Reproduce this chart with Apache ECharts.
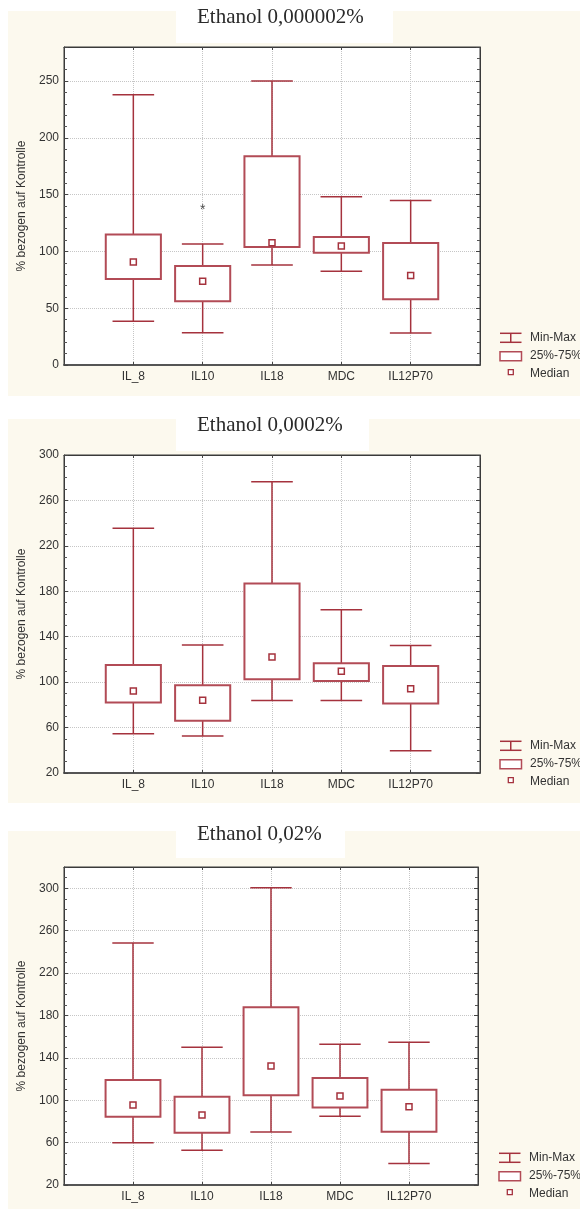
<!DOCTYPE html>
<html><head><meta charset="utf-8">
<script src="https://cdn.jsdelivr.net/npm/echarts@6/dist/echarts.min.js"></script>
<style>html,body{margin:0;padding:0;background:#fff}#c{width:580px;height:1209px}</style>
</head><body><div id="c"></div>
<script>
// ---- data ----
const categories = ['IL_8', 'IL10', 'IL18', 'MDC', 'IL12P70'];
const titles = ['Ethanol 0,000002%', 'Ethanol 0,0002%', 'Ethanol 0,02%'];
const yName = '% bezogen auf Kontrolle';
const legendLabels = ['Min-Max', '25%-75%', 'Median'];

// Panel 1: Ethanol 0,000002%
const p1Min    = [38.6, 28.4, 88.1, 82.6, 28.1];
const p1Q1     = [75.8, 56.2, 103.9, 98.9, 58.0];
const p1Median = [90.7, 73.8, 107.7, 104.8, 78.7];
const p1Q3     = [114.8, 87.2, 183.8, 112.7, 107.4];
const p1Max    = [238.0, 106.6, 250.0, 148.1, 144.9];
const p1Outliers = [['IL10', 140.2]];
const p1Axis = [0, 280, 50];

// Panel 2: Ethanol 0,0002%
const p2Min    = [54.6, 52.5, 83.8, 83.8, 39.6];
const p2Q1     = [82.1, 66.0, 102.6, 101.1, 81.2];
const p2Median = [92.3, 84.1, 122.2, 109.6, 94.1];
const p2Q3     = [115.2, 97.3, 186.9, 116.6, 114.3];
const p2Max    = [235.5, 132.7, 276.5, 163.8, 132.2];
const p2Axis = [20, 300, 40];

// Panel 3: Ethanol 0,02%
const p3Min    = [59.9, 52.7, 70.0, 84.8, 40.4];
const p3Q1     = [84.5, 69.4, 104.6, 93.0, 70.3];
const p3Median = [95.5, 86.0, 132.3, 104.0, 93.9];
const p3Q3     = [119.1, 103.3, 187.6, 120.9, 109.9];
const p3Max    = [248.3, 149.9, 300.5, 152.7, 154.6];
const p3Axis = [20, 320, 40];

// ---- styling / layout ----
const LINE = '#a5323d', BOX = '#b24b56', CREAM = '#fcf9ee', FRAME = '#3a3a3a', TXT = '#333';
const SANS = 'Liberation Sans, Arial, sans-serif', SERIF = 'Liberation Serif, Times New Roman, serif';
const panels = [
  {grid: {left: 64, top: 47, width: 416, height: 318}, axis: p1Axis, minorSplit: 5,
   data: [p1Min, p1Q1, p1Median, p1Q3, p1Max], outliers: p1Outliers,
   cream: [8, 11, 572, 385], white: [176, 11, 217, 32], titleTop: 5, legendX: 500},
  {grid: {left: 64, top: 455, width: 416, height: 318}, axis: p2Axis, minorSplit: 4,
   data: [p2Min, p2Q1, p2Median, p2Q3, p2Max], outliers: [],
   cream: [8, 419, 572, 384], white: [176, 419, 193, 32], titleTop: 413, legendX: 500},
  {grid: {left: 64, top: 867, width: 414, height: 318}, axis: p3Axis, minorSplit: 4,
   data: [p3Min, p3Q1, p3Median, p3Q3, p3Max], outliers: [],
   cream: [8, 831, 572, 378], white: [176, 831, 169, 27], titleTop: 822, legendX: 499}
];

function renderBox(params, api) {
  const x = api.value(0);
  const mn = api.coord([x, api.value(1)]);
  const q1 = api.coord([x, api.value(2)]);
  const md = api.coord([x, api.value(3)]);
  const q3 = api.coord([x, api.value(4)]);
  const mx = api.coord([x, api.value(5)]);
  const unit = api.size([1, 0])[0];
  const bw = unit * 0.795, cw = unit * 0.6, cx = mn[0];
  const ls = {stroke: LINE, lineWidth: 1.5};
  return {type: 'group', children: [
    {type: 'line', shape: {x1: cx, y1: mn[1], x2: cx, y2: mx[1]}, style: ls},
    {type: 'line', shape: {x1: cx - cw / 2, y1: mn[1], x2: cx + cw / 2, y2: mn[1]}, style: ls},
    {type: 'line', shape: {x1: cx - cw / 2, y1: mx[1], x2: cx + cw / 2, y2: mx[1]}, style: ls},
    {type: 'rect', shape: {x: cx - bw / 2, y: q3[1], width: bw, height: q1[1] - q3[1]},
     style: {fill: '#fff', stroke: BOX, lineWidth: 2}},
    {type: 'rect', shape: {x: md[0] - 3, y: md[1] - 3, width: 6, height: 6},
     style: {fill: '#fff', stroke: LINE, lineWidth: 1.5}}
  ]};
}

const option = {animation: false, backgroundColor: '#fff',
  grid: [], xAxis: [], yAxis: [], series: [], title: [], graphic: []};

panels.forEach((p, i) => {
  option.grid.push(Object.assign({show: true, backgroundColor: '#fff', borderColor: FRAME, borderWidth: 1, containLabel: false}, p.grid));
  const xBase = {type: 'value', gridIndex: i, min: 0, max: categories.length + 1, interval: 1};
  option.xAxis.push(Object.assign({}, xBase, {position: 'bottom',
    axisLine: {show: true, onZero: false, lineStyle: {color: '#555', width: 2}},
    axisTick: {show: true, inside: true, length: 3, lineStyle: {color: '#444'}},
    axisLabel: {formatter: v => categories[v - 1] || '', color: TXT, fontSize: 12, fontFamily: SANS, margin: 6},
    splitLine: {show: true, lineStyle: {color: '#c6c6c6', type: 'dotted', width: 1}}}));
  option.xAxis.push(Object.assign({}, xBase, {position: 'top',
    axisLine: {show: true, onZero: false, lineStyle: {color: FRAME, width: 1}},
    axisTick: {show: true, inside: true, length: 3, lineStyle: {color: '#444'}},
    axisLabel: {show: false}, splitLine: {show: false}}));
  const yBase = {type: 'value', gridIndex: i, min: p.axis[0], max: p.axis[1], interval: p.axis[2]};
  option.yAxis.push(Object.assign({}, yBase, {position: 'left',
    name: yName, nameLocation: 'middle', nameGap: 35,
    nameTextStyle: {color: TXT, fontSize: 12, fontFamily: SANS},
    axisLine: {show: true, onZero: false, lineStyle: {color: FRAME, width: 1}},
    axisTick: {show: true, inside: true, length: 4, lineStyle: {color: '#444'}},
    minorTick: {show: true, splitNumber: p.minorSplit, length: 3, lineStyle: {color: '#555'}},
    axisLabel: {color: TXT, fontSize: 12, fontFamily: SANS, margin: 5, showMaxLabel: (p.axis[1] - p.axis[0]) % p.axis[2] === 0},
    splitLine: {show: true, lineStyle: {color: '#c6c6c6', type: 'dotted', width: 1}}}));
  option.yAxis.push(Object.assign({}, yBase, {position: 'right',
    axisLine: {show: true, onZero: false, lineStyle: {color: FRAME, width: 1}},
    axisTick: {show: true, inside: true, length: 4, lineStyle: {color: '#444'}},
    minorTick: {show: true, splitNumber: p.minorSplit, length: 3, lineStyle: {color: '#555'}},
    axisLabel: {show: false}, splitLine: {show: false}}));

  const [mn, q1, md, q3, mx] = p.data;
  option.series.push({type: 'custom', xAxisIndex: 2 * i, yAxisIndex: 2 * i, renderItem: renderBox,
    encode: {x: 0, y: [1, 2, 3, 4, 5]}, clip: false, silent: true,
    data: categories.map((c, k) => [k + 1, mn[k], q1[k], md[k], q3[k], mx[k]])});
  if (p.outliers.length) {
    option.series.push({type: 'scatter', xAxisIndex: 2 * i, yAxisIndex: 2 * i, silent: true,
      symbol: 'circle', symbolSize: 1, itemStyle: {color: 'rgba(0,0,0,0)'},
      label: {show: true, position: 'inside', formatter: '*', color: '#222', fontSize: 14, fontFamily: SANS, offset: [0, 4]},
      data: p.outliers.map(o => [categories.indexOf(o[0]) + 1, o[1]])});
  }

  option.title.push({text: titles[i], left: 197, top: p.titleTop, padding: 0,
    textStyle: {fontFamily: SERIF, fontSize: 21, fontWeight: 'normal', color: '#2a2a2a', lineHeight: 24}});

  // panel background & title box
  option.graphic.push({type: 'rect', z: -20, silent: true, shape: {x: p.cream[0], y: p.cream[1], width: p.cream[2], height: p.cream[3]}, style: {fill: CREAM}});
  option.graphic.push({type: 'rect', z: -19, silent: true, shape: {x: p.white[0], y: p.white[1], width: p.white[2], height: p.white[3]}, style: {fill: '#fff'}});

  // legend
  const B = p.grid.top + p.grid.height, L = p.legendX;
  const ls = {stroke: LINE, lineWidth: 1.5};
  option.graphic.push({type: 'group', silent: true, children: [
    {type: 'line', shape: {x1: L, y1: B - 31.7, x2: L + 21.5, y2: B - 31.7}, style: ls},
    {type: 'line', shape: {x1: L, y1: B - 22.7, x2: L + 21.5, y2: B - 22.7}, style: ls},
    {type: 'line', shape: {x1: L + 10.75, y1: B - 31.7, x2: L + 10.75, y2: B - 22.7}, style: ls},
    {type: 'rect', shape: {x: L, y: B - 13.3, width: 21.5, height: 9}, style: {fill: '#fff', stroke: BOX, lineWidth: 1.5}},
    {type: 'rect', shape: {x: L + 8.3, y: B + 4.7, width: 5, height: 5}, style: {fill: '#fff', stroke: LINE, lineWidth: 1.3}},
    {type: 'text', x: L + 30, y: B - 27.3, style: {text: legendLabels[0], fill: TXT, font: '12px ' + SANS, verticalAlign: 'middle'}},
    {type: 'text', x: L + 30, y: B - 9, style: {text: legendLabels[1], fill: TXT, font: '12px ' + SANS, verticalAlign: 'middle'}},
    {type: 'text', x: L + 30, y: B + 8.3, style: {text: legendLabels[2], fill: TXT, font: '12px ' + SANS, verticalAlign: 'middle'}}
  ]});
});

const chart = echarts.init(document.getElementById('c'), null, {renderer: 'canvas'});
chart.setOption(option);
</script></body></html>
